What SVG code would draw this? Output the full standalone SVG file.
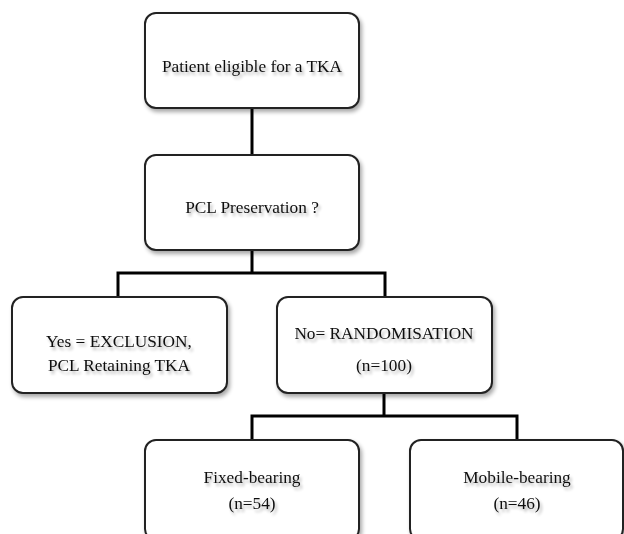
<svg xmlns="http://www.w3.org/2000/svg" width="624" height="534" viewBox="0 0 624 534">
<defs>
<filter id="sh" x="-10%" y="-10%" width="125%" height="130%">
<feGaussianBlur in="SourceAlpha" stdDeviation="2"/>
<feOffset dx="2" dy="3" result="b"/>
<feComponentTransfer><feFuncA type="linear" slope="0.35"/></feComponentTransfer>
<feMerge><feMergeNode/><feMergeNode in="SourceGraphic"/></feMerge>
</filter>
<filter id="tsh" x="-10%" y="-30%" width="125%" height="170%">
<feGaussianBlur in="SourceAlpha" stdDeviation="1.8"/>
<feOffset dx="2" dy="3"/>
<feComponentTransfer><feFuncA type="linear" slope="0.3"/></feComponentTransfer>
<feMerge><feMergeNode/><feMergeNode in="SourceGraphic"/></feMerge>
</filter>
</defs>
<style>
.box{fill:#fff;stroke:#222;stroke-width:2;filter:url(#sh)}
.t{font-family:"Liberation Serif","Times New Roman",serif;font-size:17.3px;fill:#111;text-anchor:middle;filter:url(#tsh)}
.c{fill:none;stroke:#000;stroke-width:3}
</style>
<rect width="624" height="534" fill="#fff"/>
<g id="connectors">
<path class="c" d="M252 108V155"/>
<path class="c" d="M252 250V273M118 297V273H385V297"/>
<path class="c" d="M384 393V416M252 440V416H517V440"/>
</g>
<g id="n1">
<rect class="box" x="145" y="13" width="214" height="95" rx="11"/>
<text class="t" x="252" y="72">Patient eligible for a TKA</text>
</g>
<g id="n2">
<rect class="box" x="145" y="155" width="214" height="95" rx="11"/>
<text class="t" x="252" y="213">PCL Preservation ?</text>
</g>
<g id="n3">
<rect class="box" x="12" y="297" width="215" height="96" rx="11"/>
<text class="t" x="119" y="347">Yes = EXCLUSION,</text>
<text class="t" x="119" y="371">PCL Retaining TKA</text>
</g>
<g id="n4">
<rect class="box" x="277" y="297" width="215" height="96" rx="11"/>
<text class="t" x="384" y="339">No= RANDOMISATION</text>
<text class="t" x="384" y="371">(n=100)</text>
</g>
<g id="n5">
<rect class="box" x="145" y="440" width="214" height="100" rx="11"/>
<text class="t" x="252" y="483">Fixed-bearing</text>
<text class="t" x="252" y="509">(n=54)</text>
</g>
<g id="n6">
<rect class="box" x="410" y="440" width="213" height="100" rx="11"/>
<text class="t" x="517" y="483">Mobile-bearing</text>
<text class="t" x="517" y="509">(n=46)</text>
</g>
</svg>
